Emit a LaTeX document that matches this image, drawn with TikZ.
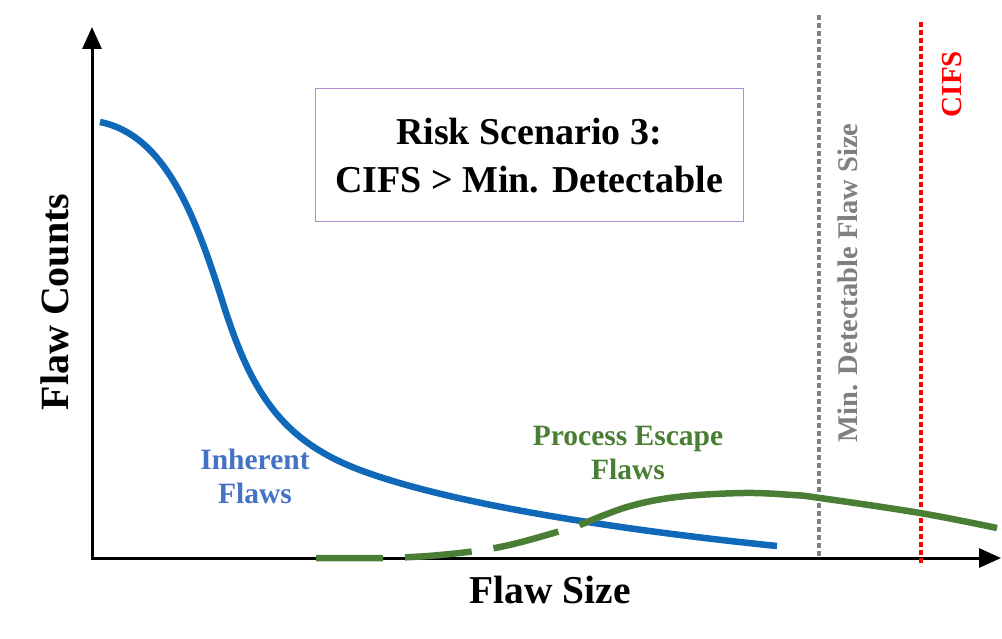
\documentclass[tikz,border=0pt]{standalone}
\usepackage{fontspec}
\setmainfont{Liberation Serif}
\usetikzlibrary{arrows.meta}
\definecolor{flawblue}{RGB}{16,104,184}
\definecolor{labelblue}{RGB}{68,114,196}
\definecolor{flawgreen}{RGB}{74,126,52}
\definecolor{boxpurple}{RGB}{176,140,214}
\definecolor{detgray}{RGB}{128,128,128}
\begin{document}
\begin{tikzpicture}[x=1pt, y=-1pt,
    every node/.append style={font=\bfseries, align=center, inner sep=0pt},
    axis/.style={line width=3pt, -{Triangle[width=19pt,length=22pt]}},
    inherent/.style={flawblue, line width=6.5pt},
    escape/.style={flawgreen, line width=6.5pt}]
    \useasboundingbox (0,0) rectangle (1002,639);

    % axes
    \coordinate (origin) at (92,558);
    \draw[axis] (origin) -- (92,27);
    \draw[axis] (90.5,558) -- (1001,558);
    \node[rotate=90, font=\bfseries\fontsize{40}{42}\selectfont] (ylab) at (55,302) {Flaw Counts};
    \node[font=\bfseries\fontsize{39.5}{42}\selectfont] (xlab) at (550,590) {Flaw Size};

    % limit lines
    \draw[detgray, line width=3.5pt, dash pattern=on 5pt off 3pt] (819,15) -- (819,558);
    \draw[red, line width=3.5pt, dash pattern=on 5pt off 3pt] (921,22) -- (921,566);
    \node[detgray, rotate=90, font=\bfseries\fontsize{28.5}{30}\selectfont] (mdfs) at (848,283) {Min. Detectable Flaw Size};
    \node[red, rotate=90, font=\bfseries\fontsize{29}{30}\selectfont] (cifs) at (952,84) {CIFS};

    % scenario box
    \node[draw=boxpurple, line width=1pt, minimum width=428pt, minimum height=133pt,
          font=\bfseries\fontsize{38}{48}\selectfont] (title) at (529,155.5)
        {Risk Scenario 3:\\CIFS > Min. Detectable};

    % flaw populations
    \draw[inherent] (100,122) .. controls (165,135) and (195,215) .. (222,300)
        .. controls (250,390) and (280,440) .. (360,470)
        .. controls (450,504) and (620,530) .. (777,546);
    \draw[escape, dash pattern=on 67pt off 22pt] plot[smooth, tension=0.6] coordinates {(316,558)
        (383,558) (440,555) (500,547) (557,532) (580,524)};
    \draw[escape] plot[smooth, tension=0.6] coordinates {(580,525) (627,507) (677,497) (743,493)
        (793,495) (820,498) (920,513) (997,528)};

    \node[labelblue, font=\bfseries\fontsize{29.5}{34}\selectfont] (inh) at (255,476) {Inherent\\Flaws};
    \node[flawgreen, font=\bfseries\fontsize{29.5}{34}\selectfont] (esc) at (628,453) {Process Escape\\Flaws};
\end{tikzpicture}
\end{document}
